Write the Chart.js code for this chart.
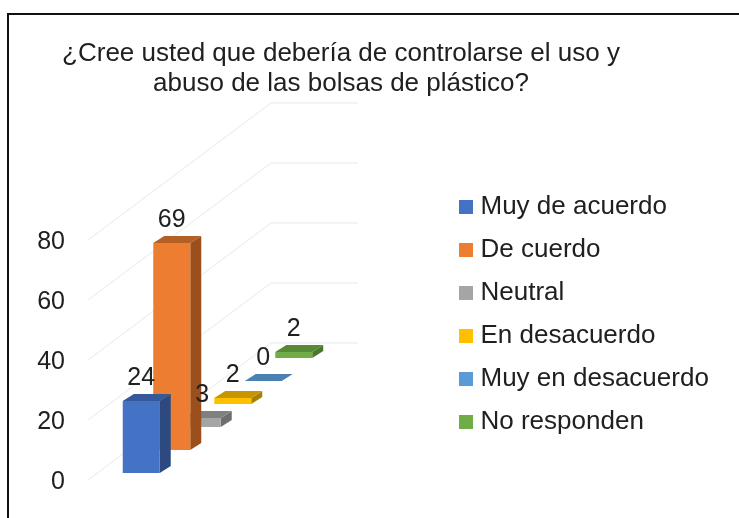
<!DOCTYPE html>
<html>
<head>
<meta charset="utf-8">
<script src="https://cdn.jsdelivr.net/npm/chart.js@4/dist/chart.umd.min.js"></script>
<style>
html,body{margin:0;padding:0;background:#fff;overflow:hidden;}
#wrap{position:relative;width:739px;height:518px;overflow:hidden;}
#frame{position:absolute;left:7px;top:13px;width:800px;height:600px;border:2px solid #111;pointer-events:none;}
canvas{display:block;filter:blur(0.5px);}
</style>
</head>
<body>
<div id="wrap"><canvas id="c" width="739" height="518"></canvas><div id="frame"></div></div>
<script>
const categories = ['Respuestas'];
const seriesNames = ['Muy de acuerdo','De cuerdo','Neutral','En desacuerdo','Muy en desacuerdo','No responden'];
const seriesValues = [24,69,3,2,0,2];
const frontColors = ['#4472c4','#ed7d31','#a5a5a5','#ffc000','#5b9bd5','#70ad47'];
const topColors   = ['#35599b','#b45f25','#808080','#c79500','#4a80b2','#578a36'];
const sideColors  = ['#2c4a80','#9a4f1c','#6e6e6e','#a87f00','#3f6e98','#4a762d'];
const titleLines = ['¿Cree usted que debería de controlarse el uso y','abuso de las bolsas de plástico?'];

const FONT = '"Liberation Sans", Arial, sans-serif';
const TEXT = '#202020';
// 3D projection styling (pixels)
const floorDX = 38, floorDY = 7, stepDY = 23, depthDX = 11, depthDY = 7;
const wallDX = 183, wallDY = 137, wallW = 87;

const fake3d = {
  id: 'fake3d',
  afterLayout(chart) {
    const lg = chart.legend;
    lg.left = 447.5; lg.right = 739; lg.top = 177; lg.bottom = 518;
    const t = chart.titleBlock; t.left = 0; t.right = 682;
  },
  afterDatasetsUpdate(chart) {
    chart.getSortedVisibleDatasetMetas().forEach(meta => {
      const i = meta.index;
      meta.data.forEach(el => {
        el.x += floorDX;
        el.y -= floorDY + stepDY * i;
        el.base -= floorDY + stepDY * i;
      });
    });
  },
  beforeDatasetsDraw(chart) {
    const {ctx, chartArea: a, scales: {y}} = chart;
    ctx.save();
    ctx.strokeStyle = '#f1f1f1';
    ctx.lineWidth = 1.5;
    y.ticks.forEach(t => {
      const py = y.getPixelForValue(t.value);
      ctx.beginPath();
      ctx.moveTo(a.left, py);
      ctx.lineTo(a.left + wallDX, py - wallDY);
      ctx.lineTo(a.left + wallDX + wallW, py - wallDY);
      ctx.stroke();
    });
    ctx.restore();
  },
  beforeDatasetDraw(chart, args) {
    const {ctx} = chart, i = args.index;
    args.meta.data.forEach(el => {
      const l = el.x - el.width / 2, r = el.x + el.width / 2, t = el.y, b = el.base;
      ctx.save();
      ctx.fillStyle = sideColors[i];
      ctx.beginPath();
      ctx.moveTo(r, t); ctx.lineTo(r + depthDX, t - depthDY);
      ctx.lineTo(r + depthDX, b - depthDY); ctx.lineTo(r, b);
      ctx.closePath(); ctx.fill();
      ctx.fillStyle = topColors[i];
      ctx.beginPath();
      ctx.moveTo(l, t); ctx.lineTo(l + depthDX, t - depthDY);
      ctx.lineTo(r + depthDX, t - depthDY); ctx.lineTo(r, t);
      ctx.closePath(); ctx.fill();
      ctx.restore();
    });
  },
  afterDatasetsDraw(chart) {
    const {ctx} = chart;
    ctx.save();
    ctx.font = '25px ' + FONT;
    ctx.fillStyle = TEXT;
    ctx.textAlign = 'center';
    ctx.textBaseline = 'middle';
    chart.getSortedVisibleDatasetMetas().forEach(meta => {
      meta.data.forEach(el => {
        ctx.fillText(String(seriesValues[meta.index]), el.x, el.y - 23);
      });
    });
    ctx.restore();
  }
};

new Chart(document.getElementById('c'), {
  type: 'bar',
  data: {
    labels: categories,
    datasets: seriesNames.map((name, i) => ({
      label: name,
      data: [seriesValues[i]],
      backgroundColor: frontColors[i],
      clip: false,
      barPercentage: 1.213,
      categoryPercentage: 1
    }))
  },
  options: {
    responsive: false,
    animation: false,
    layout: {padding: {left: 37, right: 408, top: 0, bottom: 38}},
    scales: {
      x: {display: false},
      y: {
        min: 0, max: 80,
        grid: {display: false, drawTicks: false},
        border: {display: false},
        afterFit(scale) { scale.width = 51; },
        ticks: {stepSize: 20, padding: 23, labelOffset: 2, color: TEXT, font: {family: FONT, size: 25}}
      }
    },
    plugins: {
      tooltip: {enabled: false},
      title: {
        display: true,
        text: titleLines,
        color: TEXT,
        font: {family: FONT, size: 26, weight: 'normal', lineHeight: 1.154},
        padding: {top: 39, bottom: 141}
      },
      legend: {
        position: 'right',
        align: 'start',
        maxWidth: 60,
        labels: {
          color: TEXT,
          font: {family: FONT, size: 26},
          boxWidth: 3,
          boxHeight: 3,
          padding: 17,
          generateLabels: () => seriesNames.map((name, i) => ({
            text: name, fillStyle: frontColors[i], strokeStyle: frontColors[i],
            fontColor: TEXT, lineWidth: 11, datasetIndex: i, hidden: false
          }))
        }
      }
    }
  },
  plugins: [fake3d]
});
</script>
</body>
</html>
